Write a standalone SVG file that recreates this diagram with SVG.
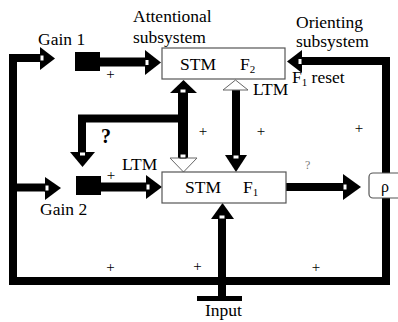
<svg xmlns="http://www.w3.org/2000/svg" width="398" height="322" viewBox="0 0 398 322" font-family="'Liberation Serif', 'Times New Roman', 'DejaVu Serif', serif">
<style>
text{font-family:'Liberation Serif','Times New Roman','DejaVu Serif',serif;fill:#000}
.lbl{font-size:17.5px}
.pl{font-size:15px}
.box{fill:#fff;stroke:#555;stroke-width:1.2}
.ln{fill:none;stroke:#000;stroke-width:8;stroke-linejoin:miter;stroke-linecap:butt}
.hd{fill:#000}
.hol{fill:#fff;stroke:#666;stroke-width:1}
.nt{fill:#fff;stroke:#000;stroke-width:1}
.gain{fill:#000}
</style>
<rect width="398" height="322" fill="#fff"/>
<g id="connectors">
<path class="ln" d="M40 58 H13 V281 H386 V190"/>
<path class="ln" d="M386 173 V61 H302"/>
<path class="ln" d="M13 187.5 H45"/>
<path class="ln" d="M100 62 H145" style="stroke-width:9"/>
<path class="ln" d="M101 187 H146" style="stroke-width:9"/>
<path class="ln" d="M286 187 H343"/>
<path class="ln" d="M222 301 V219"/>
<path class="ln" d="M183 93 V158" style="stroke-width:10"/>
<path class="ln" d="M188 118.5 H82 V152"/>
<path class="ln" d="M236 90 V155"/>
<polygon class="hd" points="40,47 55,58.5 40,70"/>
<rect class="nt" x="40" y="55" width="4" height="6"/>
<polygon class="hd" points="45,177 61,188 45,200"/>
<rect class="nt" x="45" y="185" width="4" height="6"/>
<polygon class="hd" points="145,50 161,62.5 145,75"/>
<rect class="nt" x="145" y="59.5" width="4" height="6"/>
<polygon class="hd" points="146,175 162,187 146,199"/>
<rect class="nt" x="146" y="184" width="4" height="6"/>
<polygon class="hd" points="343,174 361,187 343,200"/>
<rect class="nt" x="343" y="184" width="4" height="6"/>
<polygon class="hd" points="302,50 287,61.5 302,73"/>
<rect class="nt" x="298" y="58.5" width="4" height="6"/>
<polygon class="hd" points="211,219 222.5,203 234,219"/>
<rect class="nt" x="219" y="215" width="6" height="4"/>
<polygon class="hd" points="170,93 183.5,80 197,93"/>
<rect class="nt" x="180" y="89" width="6" height="4"/>
<polygon class="hol" points="170,158 183.5,172 197,158"/>
<rect class="nt" x="180" y="154" width="6" height="4"/>
<polygon class="hd" points="70,152 82.5,167 95,152"/>
<rect class="nt" x="79.5" y="152" width="6" height="4"/>
<polygon class="hol" points="223,90 235.5,80 248,90"/>
<polygon class="hd" points="225,155 236,172 247,155"/>
<rect class="nt" x="233" y="155" width="6" height="4"/>
<rect class="gain" x="197" y="296" width="45" height="5"/>
</g>
<g id="gain1">
<rect class="gain" x="75" y="52" width="25" height="19"/>
<text class="lbl" x="38" y="45">Gain 1</text>
</g>
<g id="gain2">
<rect class="gain" x="76" y="176" width="25" height="19"/>
<text class="lbl" x="40" y="215">Gain 2</text>
</g>
<g id="f2">
<rect class="box" x="162" y="48" width="123" height="31"/>
<text class="lbl" x="180" y="70">STM</text>
<text class="lbl" x="240" y="70">F<tspan font-size="11" dy="3">2</tspan></text>
</g>
<g id="f1">
<rect class="box" x="162" y="172" width="124" height="31"/>
<text class="lbl" x="185" y="193">STM</text>
<text class="lbl" x="243" y="193">F<tspan font-size="11" dy="3">1</tspan></text>
</g>
<g id="rho">
<rect class="box" x="369" y="173" width="40" height="25" rx="4"/>
<text x="381" y="192" style="font-size:16px">ρ</text>
</g>
<g id="labels">
<text class="lbl" x="133" y="22">Attentional</text>
<text class="lbl" x="133" y="43">subsystem</text>
<text class="lbl" x="296" y="28">Orienting</text>
<text class="lbl" x="296" y="47">subsystem</text>
<text class="lbl" x="292" y="83">F<tspan font-size="11" dy="3">1</tspan><tspan dy="-3"> reset</tspan></text>
<text class="lbl" x="253" y="95">LTM</text>
<text class="lbl" x="122" y="170">LTM</text>
<text x="101" y="143" style="font-size:20px;font-weight:bold">?</text>
<text x="305" y="169" style="font-size:12px;fill:#777">?</text>
<text class="pl" x="110.5" y="79" text-anchor="middle">+</text>
<text class="pl" x="111" y="180" text-anchor="middle">+</text>
<text class="pl" x="203" y="136" text-anchor="middle">+</text>
<text class="pl" x="261" y="136" text-anchor="middle">+</text>
<text class="pl" x="359" y="133" text-anchor="middle">+</text>
<text class="pl" x="110.5" y="272" text-anchor="middle">+</text>
<text class="pl" x="197.5" y="271" text-anchor="middle">+</text>
<text class="pl" x="316" y="272" text-anchor="middle">+</text>
<text class="lbl" x="205" y="316">Input</text>
</g>
</svg>
